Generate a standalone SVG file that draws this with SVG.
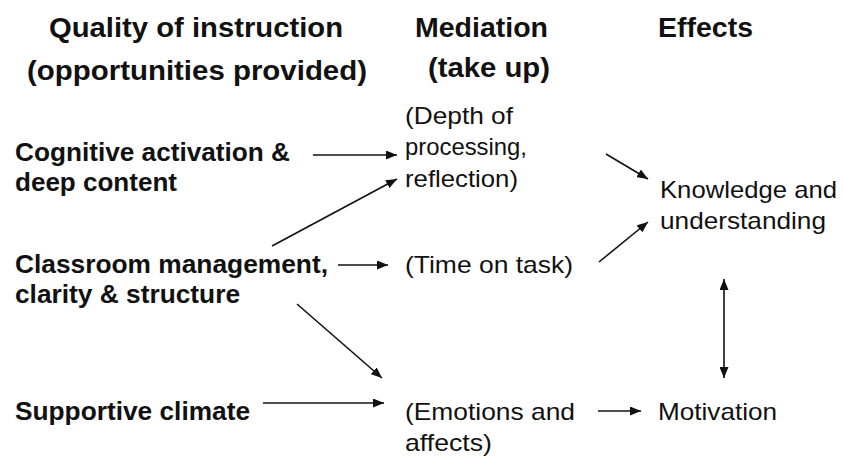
<svg xmlns="http://www.w3.org/2000/svg" width="843" height="457" viewBox="0 0 843 457">
<defs>
<marker id="ah" viewBox="0 0 11 9" refX="11" refY="4.5" markerWidth="11" markerHeight="9" markerUnits="userSpaceOnUse" orient="auto-start-reverse">
<path d="M0,0 L11,4.5 L0,9 z" fill="#111"/>
</marker>
<style>
.h{font-family:"Liberation Sans",Arial,sans-serif;font-weight:bold;font-size:28px;fill:#111}
.b{font-family:"Liberation Sans",Arial,sans-serif;font-weight:bold;font-size:25px;fill:#111}
.r{font-family:"Liberation Sans",Arial,sans-serif;font-size:24px;fill:#111}
.c{stroke:#111;stroke-width:1.6;fill:none;marker-end:url(#ah)}
</style>
</defs>
<rect width="843" height="457" fill="#fff"/>
<g id="headers">
<text class="h" x="49" y="37" textLength="294" lengthAdjust="spacingAndGlyphs">Quality of instruction</text>
<text class="h" x="27" y="80" textLength="340" lengthAdjust="spacingAndGlyphs">(opportunities provided)</text>
<text class="h" x="415" y="37" textLength="133" lengthAdjust="spacingAndGlyphs">Mediation</text>
<text class="h" x="428" y="77" textLength="122" lengthAdjust="spacingAndGlyphs">(take up)</text>
<text class="h" x="658" y="37" textLength="95" lengthAdjust="spacingAndGlyphs">Effects</text>
</g>
<g id="cognitive">
<text class="b" x="15" y="161" textLength="275" lengthAdjust="spacingAndGlyphs">Cognitive activation &amp;</text>
<text class="b" x="15" y="191" textLength="162" lengthAdjust="spacingAndGlyphs">deep content</text>
</g>
<g id="classroom">
<text class="b" x="15" y="273" textLength="313" lengthAdjust="spacingAndGlyphs">Classroom management,</text>
<text class="b" x="15" y="303" textLength="225" lengthAdjust="spacingAndGlyphs">clarity &amp; structure</text>
</g>
<g id="supportive">
<text class="b" x="15" y="420" textLength="235" lengthAdjust="spacingAndGlyphs">Supportive climate</text>
</g>
<g id="depth">
<text class="r" x="405" y="124" textLength="108" lengthAdjust="spacingAndGlyphs">(Depth of</text>
<text class="r" x="405" y="155" textLength="122" lengthAdjust="spacingAndGlyphs">processing,</text>
<text class="r" x="405" y="187" textLength="113" lengthAdjust="spacingAndGlyphs">reflection)</text>
</g>
<g id="time">
<text class="r" x="405" y="273" textLength="168" lengthAdjust="spacingAndGlyphs">(Time on task)</text>
</g>
<g id="emotions">
<text class="r" x="405" y="420" textLength="170" lengthAdjust="spacingAndGlyphs">(Emotions and</text>
<text class="r" x="405" y="451" textLength="87" lengthAdjust="spacingAndGlyphs">affects)</text>
</g>
<g id="knowledge">
<text class="r" x="660" y="198" textLength="177" lengthAdjust="spacingAndGlyphs">Knowledge and</text>
<text class="r" x="660" y="229" textLength="166" lengthAdjust="spacingAndGlyphs">understanding</text>
</g>
<g id="motivation">
<text class="r" x="658" y="420" textLength="119" lengthAdjust="spacingAndGlyphs">Motivation</text>
</g>
<g id="connectors">
<line class="c" x1="313" y1="155" x2="397" y2="155"/>
<line class="c" x1="272" y1="246" x2="397" y2="179"/>
<line class="c" x1="338" y1="265" x2="388" y2="265"/>
<line class="c" x1="297" y1="304" x2="382" y2="378"/>
<line class="c" x1="263" y1="403" x2="384" y2="403"/>
<line class="c" x1="598" y1="411" x2="641" y2="411"/>
<line class="c" x1="606" y1="154" x2="648" y2="179"/>
<line class="c" x1="599" y1="262" x2="648" y2="222"/>
<line class="c" x1="724" y1="279" x2="724" y2="378" style="marker-start:url(#ah)"/>
</g>
</svg>
